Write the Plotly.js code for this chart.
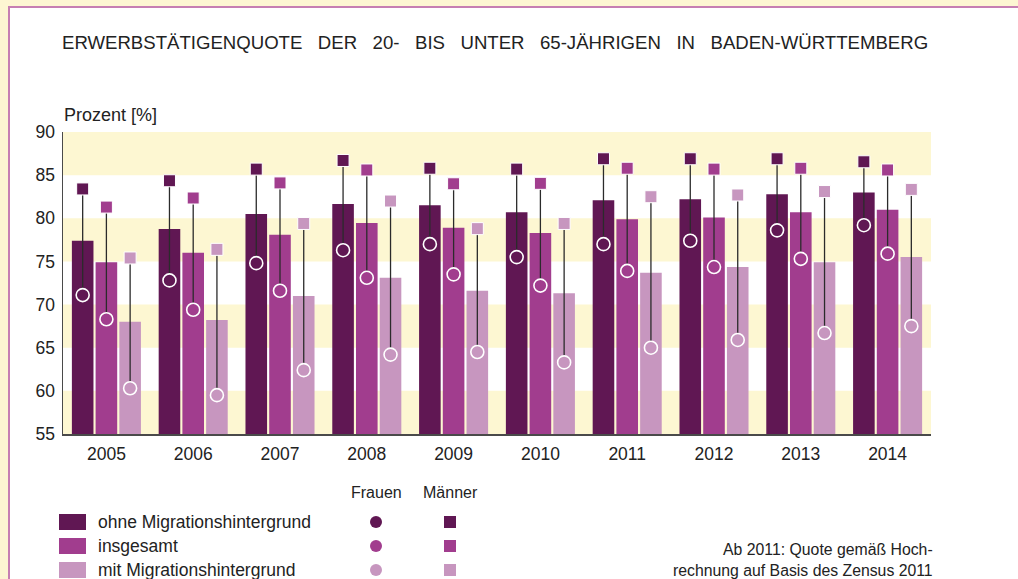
<!DOCTYPE html>
<html>
<head>
<meta charset="utf-8">
<script src="https://cdn.plot.ly/plotly-3.0.1.min.js"></script>
<style>html,body{margin:0;padding:0;background:#fdf6d2;}#chart{width:1018px;height:579px;}</style>
</head>
<body>
<div id="chart"></div>
<script>
// ---- data ----
const years = ['2005','2006','2007','2008','2009','2010','2011','2012','2013','2014'];
const seriesNames = ['ohne Migrationshintergrund', 'insgesamt', 'mit Migrationshintergrund'];
const seriesColors = ['#601753', '#a13d8e', '#c796bf'];
// bars: total rate
const totalOhne = [77.4, 78.75, 80.5, 81.65, 81.5, 80.7, 82.1, 82.2, 82.8, 83.0];
const totalInsg = [74.9, 76.0, 78.1, 79.45, 78.9, 78.3, 79.9, 80.1, 80.7, 81.0];
const totalMit  = [68.0, 68.2, 71.0, 73.1, 71.6, 71.3, 73.7, 74.35, 74.9, 75.5];
// Frauen (circles)
const frauenOhne = [71.1, 72.8, 74.8, 76.3, 77.0, 75.5, 77.0, 77.4, 78.6, 79.2];
const frauenInsg = [68.3, 69.4, 71.6, 73.1, 73.5, 72.2, 73.9, 74.35, 75.3, 75.9];
const frauenMit  = [60.3, 59.5, 62.4, 64.2, 64.5, 63.3, 65.0, 65.9, 66.7, 67.5];
// Männer (squares)
const maennerOhne = [83.4, 84.35, 85.7, 86.7, 85.8, 85.7, 86.9, 86.9, 86.9, 86.55];
const maennerInsg = [81.3, 82.35, 84.1, 85.6, 84.0, 84.05, 85.8, 85.7, 85.8, 85.6];
const maennerMit  = [75.4, 76.4, 79.4, 82.0, 78.8, 79.4, 82.5, 82.7, 83.1, 83.35];
const yTicks = [55, 60, 65, 70, 75, 80, 85, 90];
const titleWords = ['ERWERBSTÄTIGENQUOTE', 'DER', '20-', 'BIS', 'UNTER', '65-JÄHRIGEN', 'IN', 'BADEN-WÜRTTEMBERG'];
const yTitle = 'Prozent [%]';
const legendHeads = ['Frauen', 'Männer'];
const footnote = 'Ab 2011: Quote gemäß Hoch-<br>rechnung auf Basis des Zensus 2011';

const totals = [totalOhne, totalInsg, totalMit];
const frauen = [frauenOhne, frauenInsg, frauenMit];
const maenner = [maennerOhne, maennerInsg, maennerMit];

// ---- layout geometry (pixels) ----
const L = 63, R = 931, T = 132, B = 434;
const W = R - L, H = B - T;
const px = x => (x - L) / W;
const py = y => (B - y) / H;

const FONT = 'Liberation Sans, Arial, sans-serif';
const TXT = '#222222';
const NB = '\u00a0';

const traces = [];
for (let i = 0; i < 3; i++) {
  traces.push({
    type: 'bar', x: years, y: totals[i], name: seriesNames[i],
    offsetgroup: 'g' + i, marker: {color: seriesColors[i], line: {width: 0}},
    showlegend: false, hoverinfo: 'y', base: 0
  });
}
for (let i = 0; i < 3; i++) {
  traces.push({
    type: 'scatter', mode: 'markers', x: years, y: frauen[i], name: 'Frauen ' + seriesNames[i],
    offsetgroup: 'g' + i, showlegend: false,
    marker: {symbol: 'circle', size: 13, color: seriesColors[i], line: {color: '#ffffff', width: 1.6}},
    error_y: {type: 'data', symmetric: false,
      array: maenner[i].map((m, k) => m - frauen[i][k]),
      arrayminus: frauen[i].map(() => 0),
      width: 0, thickness: 1.3, color: '#2b2b2b'}
  });
}
for (let i = 0; i < 3; i++) {
  traces.push({
    type: 'scatter', mode: 'markers', x: years, y: maenner[i], name: 'Männer ' + seriesNames[i],
    offsetgroup: 'g' + i, showlegend: false,
    marker: {symbol: 'square', size: 12, color: seriesColors[i], line: {color: '#ffffff', width: 1}}
  });
}

const shapes = [];
// page frame
shapes.push({type: 'rect', xref: 'paper', yref: 'paper', layer: 'below',
  x0: px(9), x1: px(1040), y0: py(7), y1: py(620),
  fillcolor: '#ffffff', line: {color: '#c67fb2', width: 2}});
// alternating bands
for (let k = 0; k < yTicks.length - 1; k += 2) {
  shapes.push({type: 'rect', xref: 'paper', yref: 'y', layer: 'below',
    x0: 0, x1: 1, y0: yTicks[k], y1: yTicks[k + 1],
    fillcolor: '#fdf7d2', line: {width: 0}});
}

const annotations = [];
annotations.push({xref: 'paper', yref: 'paper', x: px(62), y: py(115), xanchor: 'left', yanchor: 'middle',
  text: yTitle, showarrow: false, font: {family: FONT, size: 18, color: TXT}});
// legend
const rowY = [522, 546, 570];
const headY = 492, circX = 376, sqX = 450;
annotations.push({xref: 'paper', yref: 'paper', x: px(circX), y: py(headY), xanchor: 'center', yanchor: 'middle',
  text: legendHeads[0], showarrow: false, font: {family: FONT, size: 16, color: TXT}});
annotations.push({xref: 'paper', yref: 'paper', x: px(sqX), y: py(headY), xanchor: 'center', yanchor: 'middle',
  text: legendHeads[1], showarrow: false, font: {family: FONT, size: 16, color: TXT}});
for (let i = 0; i < 3; i++) {
  const cy = rowY[i];
  shapes.push({type: 'rect', xref: 'paper', yref: 'paper', x0: px(59), x1: px(86), y0: py(cy - 8), y1: py(cy + 8),
    fillcolor: seriesColors[i], line: {width: 0}});
  shapes.push({type: 'circle', xref: 'paper', yref: 'paper', x0: px(circX - 6), x1: px(circX + 6), y0: py(cy - 6), y1: py(cy + 6),
    fillcolor: seriesColors[i], line: {width: 0}});
  shapes.push({type: 'rect', xref: 'paper', yref: 'paper', x0: px(sqX - 6), x1: px(sqX + 6), y0: py(cy - 6), y1: py(cy + 6),
    fillcolor: seriesColors[i], line: {width: 0}});
  annotations.push({xref: 'paper', yref: 'paper', x: px(96), y: py(cy), xanchor: 'left', yanchor: 'middle',
    text: seriesNames[i], showarrow: false, font: {family: FONT, size: 17.5, color: TXT}});
}
annotations.push({xref: 'paper', yref: 'paper', x: px(935), y: py(560), xanchor: 'right', yanchor: 'middle',
  align: 'right', text: footnote, showarrow: false, font: {family: FONT, size: 15.8, color: TXT}});

const layout = {
  width: 1018, height: 579,
  margin: {l: L, r: 1018 - R, t: T, b: 579 - B, pad: 0},
  paper_bgcolor: '#fdf6d2', plot_bgcolor: 'rgba(0,0,0,0)',
  title: {text: titleWords.join(NB + NB + NB), x: 62 / 1018, xanchor: 'left', xref: 'container',
    y: 1 - 42 / 579, yanchor: 'middle', yref: 'container',
    font: {family: FONT, size: 18.6, color: TXT}},
  barmode: 'group', bargap: 0.18, bargroupgap: 0.09,
  scattermode: 'group', scattergap: 0.18,
  showlegend: false,
  xaxis: {type: 'category', showline: true, linecolor: '#4a4a4a', linewidth: 2,
    ticks: 'outside', ticklen: 3, tickcolor: 'rgba(0,0,0,0)', showgrid: false, zeroline: false,
    tickfont: {family: FONT, size: 17.5, color: TXT}, fixedrange: true},
  yaxis: {range: [55, 90], tickvals: yTicks, showline: true, linecolor: '#4a4a4a', linewidth: 1.5,
    ticks: 'outside', ticklen: 3, tickcolor: 'rgba(0,0,0,0)', showgrid: false, zeroline: false,
    tickfont: {family: FONT, size: 17.5, color: TXT}, fixedrange: true},
  shapes: shapes, annotations: annotations
};

Plotly.newPlot('chart', traces, layout, {displayModeBar: false, staticPlot: true});
</script>
</body>
</html>
